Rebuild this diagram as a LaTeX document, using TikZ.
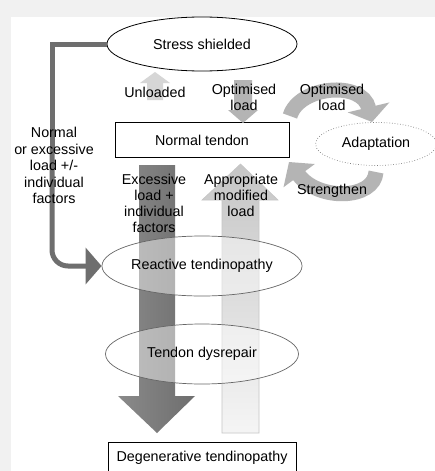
\documentclass[tikz,border=0pt]{standalone}
\usepackage{fontspec}
\setmainfont{Liberation Sans}
\usetikzlibrary{arrows.meta,shapes.geometric}
\definecolor{bggray}{HTML}{F1F1F1}
\definecolor{darkarr}{HTML}{6E6E6E}
\definecolor{darkarrl}{HTML}{8A8A8A}
\definecolor{midarr}{HTML}{B4B4B4}
\definecolor{lightarr}{HTML}{D6D6D6}
\definecolor{ellline}{HTML}{666666}
\tikzset{
  lbl/.style={align=center, inner sep=0pt},
  ell/.style={ellipse, draw=ellline, line width=0.7pt, fill=white, fill opacity=0.45, text opacity=1, draw opacity=1, inner sep=0pt},
  boxnode/.style={draw=black, line width=0.9pt, fill=white, inner sep=0pt},
  conn/.style={draw=darkarr, line width=5pt},
  curvarr/.style={draw=midarr, line width=15pt},
}
\begin{document}
\begin{tikzpicture}[x=1pt,y=-1pt, font=\fontsize{14.3}{16}\selectfont]
\useasboundingbox (0,0) rectangle (435,471);
\clip (0,0) rectangle (435,471);
\fill[bggray] (0,0) rectangle (435,471);
\fill[white] (11,17) rectangle (436,472);

% big vertical arrows
\shade[left color=darkarrl, right color=darkarr]
  (139,165) -- (175,165) -- (175,396) -- (195,396) -- (157,433) -- (118,396) -- (139,396) -- cycle;
\shade[top color=gray!45, bottom color=gray!8, draw=gray!45, line width=0.6pt]
  (222,433) -- (259,433) -- (259,200) -- (278,200) -- (240.5,164) -- (202,200) -- (222,200) -- cycle;

% ellipses on the arrows
\node[ell, minimum width=192pt, minimum height=60pt] (rt) at (202,266) {Reactive tendinopathy};
\node[ell, minimum width=193pt, minimum height=60pt] (td) at (202,354) {Tendon dysrepair};

% stress shielded and connector
\node[ellipse, draw=black, line width=0.8pt, fill=white, minimum width=190pt, minimum height=54pt, inner sep=0pt] (ss) at (202,44) {Stress shielded};
\draw[conn] (ss.west) -| (52,150);
\draw[conn, rounded corners=16pt, -{Triangle[width=36pt,length=16pt]}] (52,148) |- (rt.west);

% normal tendon
\node[boxnode, minimum width=174pt, minimum height=35pt] (nt) at (202,140) {Normal tendon};

% small arrows
\fill[lightarr] (147,100) -- (163,100) -- (163,83) -- (170,83) -- (155,72) -- (140,83) -- (147,83) -- cycle;
\fill[midarr] (234,80) -- (252,80) -- (252,110) -- (258,110) -- (243,123) -- (228,110) -- (234,110) -- cycle;

% adaptation loop
\node[ellipse, draw=gray, dotted, line width=0.7pt, minimum width=121pt, minimum height=43pt, inner sep=0pt] (ad) at (376,144) {Adaptation};
\draw[curvarr, -{Triangle[width=42pt,length=15pt]}] (290,116) .. controls (299,86) and (362,80) .. (372,122);
\draw[curvarr, -{Triangle[width=38pt,length=17pt]}] (376,172) .. controls (374,200) and (318,201) .. (289,162);

% degenerative
\node[boxnode, minimum width=188pt, minimum height=38pt, anchor=north] (dt) at (202,442) {};
\node[lbl] at (202,458) {Degenerative tendinopathy};

% labels
\node[lbl] (l1) at (155,92) {Unloaded};
\node[lbl, anchor=north] (l2) at (244,84) {Optimised\\load};
\node[lbl, anchor=north] (l3) at (332,84) {Optimised\\load};
\node[lbl, anchor=north, font=\fontsize{14.3}{16.5}\selectfont] (l4) at (54,127) {Normal\\or excessive\\load +/-\\individual\\factors};
\node[lbl, anchor=north] (l5) at (154,174) {Excessive\\load +\\individual\\factors};
\node[lbl, anchor=north] (l6) at (241,174) {Appropriate\\modified\\load};
\node[lbl] (l7) at (332,191) {Strengthen};
\end{tikzpicture}
\end{document}
